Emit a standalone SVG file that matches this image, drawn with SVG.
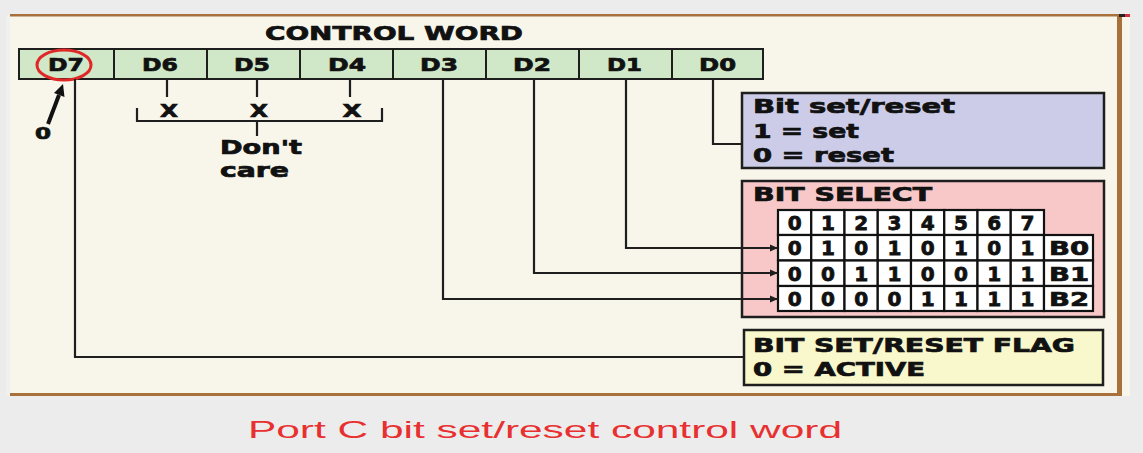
<svg xmlns="http://www.w3.org/2000/svg" width="1143" height="453" viewBox="0 0 1143 453">
<defs>
<style>
.b{font-family:"DejaVu Sans","Liberation Sans",sans-serif;font-weight:bold;fill:#111;stroke:#111;stroke-width:0.7}
.reg{fill:#d0e8c8;stroke:#1e1e1e;stroke-width:2}
.box{stroke:#1e1e1e;stroke-width:2.5}
.cell{fill:#ffffff;stroke:#111;stroke-width:2.2}
.ln{fill:none;stroke:#1e1e1e;stroke-width:2.2}
.dg{font-family:"DejaVu Sans","Liberation Sans",sans-serif;font-weight:bold;font-size:20px;fill:#111;stroke:#111;stroke-width:0.8;text-anchor:middle}
</style>
<marker id="ah" markerWidth="8" markerHeight="8" refX="8" refY="4" orient="auto" markerUnits="userSpaceOnUse">
<path d="M0,0.5 L8,4 L0,7.5 Z" fill="#1e1e1e"/>
</marker>
</defs>
<rect x="0" y="0" width="1143" height="453" fill="#ececec"/>
<rect x="6" y="15" width="4" height="381" fill="#f0f0f0"/>
<rect x="10" y="15" width="1120" height="381" fill="#f8f6ea"/>
<rect x="10" y="14" width="1112" height="2.5" fill="#a8703a"/>
<rect x="1117" y="15" width="5" height="381" fill="#a8703a"/>
<rect x="10" y="393" width="1112" height="3" fill="#a8703a"/>
<rect x="1119" y="14" width="6" height="3" fill="#222"/>
<rect x="1125" y="14" width="5" height="3" fill="#d03040"/>

<g id="title"><text class="b" x="265" y="40" font-size="19" textLength="258" lengthAdjust="spacingAndGlyphs">CONTROL WORD</text></g>

<g id="register">
<rect class="reg" x="19" y="49" width="95" height="30"/>
<rect class="reg" x="114" y="49" width="93" height="30"/>
<rect class="reg" x="207" y="49" width="93" height="30"/>
<rect class="reg" x="300" y="49" width="93" height="30"/>
<rect class="reg" x="393" y="49" width="93" height="30"/>
<rect class="reg" x="486" y="49" width="93" height="30"/>
<rect class="reg" x="579" y="49" width="93" height="30"/>
<rect class="reg" x="672" y="49" width="91" height="30"/>
<text class="b" x="48" y="71" font-size="18" textLength="36" lengthAdjust="spacingAndGlyphs">D7</text>
<text class="b" x="142" y="71" font-size="18" textLength="36" lengthAdjust="spacingAndGlyphs">D6</text>
<text class="b" x="234" y="71" font-size="18" textLength="36" lengthAdjust="spacingAndGlyphs">D5</text>
<text class="b" x="328" y="71" font-size="18" textLength="38" lengthAdjust="spacingAndGlyphs">D4</text>
<text class="b" x="420" y="71" font-size="18" textLength="38" lengthAdjust="spacingAndGlyphs">D3</text>
<text class="b" x="513" y="71" font-size="18" textLength="38" lengthAdjust="spacingAndGlyphs">D2</text>
<text class="b" x="607" y="71" font-size="18" textLength="35" lengthAdjust="spacingAndGlyphs">D1</text>
<text class="b" x="699" y="71" font-size="18" textLength="37" lengthAdjust="spacingAndGlyphs">D0</text>
<ellipse cx="64" cy="65" rx="27" ry="15" fill="none" stroke="#e02828" stroke-width="3"/>
</g>

<g id="dontcare">
<path class="ln" d="M167,79 V97 M257,79 V97 M350,79 V97"/>
<text class="b" x="169" y="117" font-size="18" text-anchor="middle" textLength="18" lengthAdjust="spacingAndGlyphs">X</text>
<text class="b" x="259" y="117" font-size="18" text-anchor="middle" textLength="18" lengthAdjust="spacingAndGlyphs">X</text>
<text class="b" x="352" y="117" font-size="18" text-anchor="middle" textLength="19" lengthAdjust="spacingAndGlyphs">X</text>
<path class="ln" d="M137,108 V121 H382 V108 M257,121 V136"/>
<text class="b" x="220" y="154" font-size="19" textLength="82" lengthAdjust="spacingAndGlyphs">Don't</text>
<text class="b" x="220" y="177" font-size="19" textLength="69" lengthAdjust="spacingAndGlyphs">care</text>
</g>

<g id="zero-arrow">
<line x1="48" y1="124" x2="59" y2="95" stroke="#111" stroke-width="4"/>
<polygon points="63,84 64.5,97 54,93" fill="#111"/>
<text class="b" x="35" y="139" font-size="16" textLength="16" lengthAdjust="spacingAndGlyphs">0</text>
</g>

<g id="bitsetreset">
<rect class="box" x="742" y="93" width="362" height="75" fill="#cccce8"/>
<text class="b" x="753" y="113" font-size="19" textLength="202" lengthAdjust="spacingAndGlyphs">Bit set/reset</text>
<text class="b" x="753" y="138" font-size="19" textLength="106" lengthAdjust="spacingAndGlyphs">1 = set</text>
<text class="b" x="753" y="162" font-size="19" textLength="141" lengthAdjust="spacingAndGlyphs">0 = reset</text>
</g>

<g id="bitselect">
<rect class="box" x="742" y="181" width="362" height="136" fill="#f8c8c8"/>
<text class="b" x="753" y="201" font-size="19" textLength="179" lengthAdjust="spacingAndGlyphs">BIT SELECT</text>
<g id="table">
<rect class="cell" x="778" y="210" width="33.25" height="25"/><rect class="cell" x="811.25" y="210" width="33.25" height="25"/><rect class="cell" x="844.5" y="210" width="33.25" height="25"/><rect class="cell" x="877.75" y="210" width="33.25" height="25"/><rect class="cell" x="911" y="210" width="33.25" height="25"/><rect class="cell" x="944.25" y="210" width="33.25" height="25"/><rect class="cell" x="977.5" y="210" width="33.25" height="25"/><rect class="cell" x="1010.75" y="210" width="33.25" height="25"/>
<rect class="cell" x="778" y="235" width="33.25" height="25.5"/><rect class="cell" x="811.25" y="235" width="33.25" height="25.5"/><rect class="cell" x="844.5" y="235" width="33.25" height="25.5"/><rect class="cell" x="877.75" y="235" width="33.25" height="25.5"/><rect class="cell" x="911" y="235" width="33.25" height="25.5"/><rect class="cell" x="944.25" y="235" width="33.25" height="25.5"/><rect class="cell" x="977.5" y="235" width="33.25" height="25.5"/><rect class="cell" x="1010.75" y="235" width="33.25" height="25.5"/><rect class="cell" x="1044" y="235" width="49" height="25.5"/>
<rect class="cell" x="778" y="260.5" width="33.25" height="25.5"/><rect class="cell" x="811.25" y="260.5" width="33.25" height="25.5"/><rect class="cell" x="844.5" y="260.5" width="33.25" height="25.5"/><rect class="cell" x="877.75" y="260.5" width="33.25" height="25.5"/><rect class="cell" x="911" y="260.5" width="33.25" height="25.5"/><rect class="cell" x="944.25" y="260.5" width="33.25" height="25.5"/><rect class="cell" x="977.5" y="260.5" width="33.25" height="25.5"/><rect class="cell" x="1010.75" y="260.5" width="33.25" height="25.5"/><rect class="cell" x="1044" y="260.5" width="49" height="25.5"/>
<rect class="cell" x="778" y="286" width="33.25" height="25"/><rect class="cell" x="811.25" y="286" width="33.25" height="25"/><rect class="cell" x="844.5" y="286" width="33.25" height="25"/><rect class="cell" x="877.75" y="286" width="33.25" height="25"/><rect class="cell" x="911" y="286" width="33.25" height="25"/><rect class="cell" x="944.25" y="286" width="33.25" height="25"/><rect class="cell" x="977.5" y="286" width="33.25" height="25"/><rect class="cell" x="1010.75" y="286" width="33.25" height="25"/><rect class="cell" x="1044" y="286" width="49" height="25"/>
<text class="dg" y="230"><tspan x="794.6">0</tspan><tspan x="827.9">1</tspan><tspan x="861.1">2</tspan><tspan x="894.4">3</tspan><tspan x="927.6">4</tspan><tspan x="960.9">5</tspan><tspan x="994.1">6</tspan><tspan x="1027.4">7</tspan></text>
<text class="dg" y="255"><tspan x="794.6">0</tspan><tspan x="827.9">1</tspan><tspan x="861.1">0</tspan><tspan x="894.4">1</tspan><tspan x="927.6">0</tspan><tspan x="960.9">1</tspan><tspan x="994.1">0</tspan><tspan x="1027.4">1</tspan></text>
<text class="dg" y="280.5"><tspan x="794.6">0</tspan><tspan x="827.9">0</tspan><tspan x="861.1">1</tspan><tspan x="894.4">1</tspan><tspan x="927.6">0</tspan><tspan x="960.9">0</tspan><tspan x="994.1">1</tspan><tspan x="1027.4">1</tspan></text>
<text class="dg" y="305.5"><tspan x="794.6">0</tspan><tspan x="827.9">0</tspan><tspan x="861.1">0</tspan><tspan x="894.4">0</tspan><tspan x="927.6">1</tspan><tspan x="960.9">1</tspan><tspan x="994.1">1</tspan><tspan x="1027.4">1</tspan></text>
<text class="b" x="1049" y="255" font-size="19" textLength="40" lengthAdjust="spacingAndGlyphs">B0</text>
<text class="b" x="1049" y="280.5" font-size="19" textLength="40" lengthAdjust="spacingAndGlyphs">B1</text>
<text class="b" x="1049" y="305.5" font-size="19" textLength="40" lengthAdjust="spacingAndGlyphs">B2</text>
</g>
</g>

<g id="flag">
<rect class="box" x="744" y="330" width="359" height="55" fill="#f8f8cc"/>
<text class="b" x="753" y="352" font-size="19" textLength="322" lengthAdjust="spacingAndGlyphs">BIT SET/RESET FLAG</text>
<text class="b" x="753" y="376" font-size="19" textLength="172" lengthAdjust="spacingAndGlyphs">0 = ACTIVE</text>
</g>

<g id="connectors">
<path class="ln" d="M713,79 V144 H742"/>
<path class="ln" d="M626,79 V248 H778" marker-end="url(#ah)"/>
<path class="ln" d="M534,79 V273 H778" marker-end="url(#ah)"/>
<path class="ln" d="M443,79 V299 H778" marker-end="url(#ah)"/>
<path class="ln" d="M75,79 V357 H744"/>
</g>

<g id="caption"><text x="248" y="438" font-family="'Liberation Sans',Arial,sans-serif" font-size="24" fill="#e83030" textLength="594" lengthAdjust="spacingAndGlyphs">Port C bit set/reset control word</text></g>
</svg>
